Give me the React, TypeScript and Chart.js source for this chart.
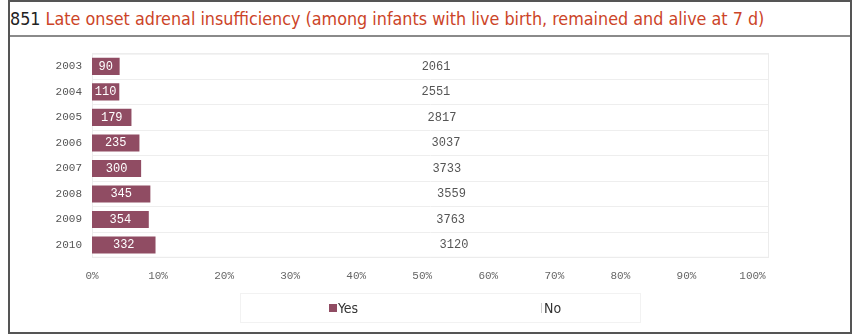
import React, { useEffect, useRef } from "react";
import { Chart, registerables } from "chart.js";

Chart.register(...registerables);

const years = ["2003", "2004", "2005", "2006", "2007", "2008", "2009", "2010"];
const yesCounts = [90, 110, 179, 235, 300, 345, 354, 332];
const noCounts = [2061, 2551, 2817, 3037, 3733, 3559, 3763, 3120];
const seriesNames = ["Yes", "No"];
const seriesColors = ["#904c63", "#ffffff"];
const xTickValues = [0, 10, 20, 30, 40, 50, 60, 70, 80, 90, 100];

const MONO = "'Liberation Mono', 'Courier New', monospace";
const SANS = "'DejaVu Sans Condensed', 'DejaVu Sans', sans-serif";

const pct = (a: number, b: number) => (a / (a + b)) * 100;
const yesPct = yesCounts.map((y, i) => pct(y, noCounts[i]));
const noPct = noCounts.map((n, i) => pct(n, yesCounts[i]));
const counts = [yesCounts, noCounts];

const frameBox = {
  id: "frameBox",
  beforeDatasetsDraw(chart: any) {
    const { ctx, chartArea: a } = chart;
    ctx.save();
    ctx.strokeStyle = "#ececec";
    ctx.lineWidth = 1;
    ctx.strokeRect(a.left + 0.5, a.top + 0.5, a.right - a.left - 1, a.bottom - a.top - 1);
    ctx.restore();
  },
};

const barLabels = {
  id: "barLabels",
  afterDatasetsDraw(chart: any) {
    const { ctx } = chart;
    ctx.save();
    ctx.font = `12px ${MONO}`;
    ctx.textAlign = "center";
    ctx.textBaseline = "middle";
    chart.data.datasets.forEach((ds: any, di: number) => {
      const meta = chart.getDatasetMeta(di);
      ctx.fillStyle = di === 0 ? "#ffffff" : "#555555";
      meta.data.forEach((el: any, i: number) => {
        const p = el.getProps(["x", "y", "base"], true);
        const cx = (p.x + p.base) / 2;
        ctx.fillText(String(counts[di][i]), cx, p.y);
      });
    });
    ctx.restore();
  },
};

const customLegend = {
  id: "customLegend",
  afterDraw(chart: any) {
    const { ctx } = chart;
    const items = chart.data.datasets;
    const cy = 271;
    ctx.save();
    ctx.strokeStyle = "#f2f2f2";
    ctx.lineWidth = 1;
    ctx.strokeRect(230.5, 256.5, 400, 29);
    const xs = [319, 525];
    ctx.font = `14px ${SANS}`;
    ctx.textBaseline = "middle";
    ctx.textAlign = "left";
    items.forEach((ds: any, i: number) => {
      const x = xs[i];
      ctx.fillStyle = ds.backgroundColor;
      ctx.fillRect(x, cy - 4, 8, 8);
      if (i === 1) {
        ctx.strokeStyle = "#cccccc";
        ctx.beginPath();
        ctx.moveTo(x + 6.5, cy - 5);
        ctx.lineTo(x + 6.5, cy + 5);
        ctx.stroke();
      }
      ctx.fillStyle = "#333333";
      ctx.fillText(ds.label, x + 9, cy + 1);
    });
    ctx.restore();
  },
};

export default function App() {
  const ref = useRef<HTMLCanvasElement | null>(null);

  useEffect(() => {
    if (!ref.current) return;
    const chart = new Chart(ref.current, {
      type: "bar",
      data: {
        labels: years,
        datasets: [
          {
            label: seriesNames[0],
            data: yesPct,
            backgroundColor: seriesColors[0],
            barPercentage: 0.67,
            categoryPercentage: 1,
          },
          {
            label: seriesNames[1],
            data: noPct,
            backgroundColor: seriesColors[1],
            barPercentage: 0.67,
            categoryPercentage: 1,
          },
        ],
      },
      options: {
        indexAxis: "y",
        responsive: false,
        animation: false,
        layout: { padding: { left: 0, right: 81, top: 16, bottom: 36 } },
        plugins: {
          legend: { display: false },
          tooltip: { enabled: false },
          title: { display: false },
        },
        scales: {
          x: {
            stacked: true,
            min: 0,
            max: 102.5,
            border: { display: false },
            grid: { display: false, drawTicks: false },
            afterBuildTicks: (scale: any) => {
              scale.ticks = xTickValues.map((v) => ({ value: v }));
            },
            ticks: {
              padding: 12,
              color: "#666666",
              font: { family: MONO, size: 11 },
              callback: (v: any) => `${v}%`,
              maxRotation: 0,
              autoSkip: false,
            },
          },
          y: {
            stacked: true,
            border: { display: false },
            grid: { color: "#eeeeee", drawTicks: false, offset: true },
            afterFit: (scale: any) => {
              scale.width = 82;
            },
            ticks: {
              padding: 10,
              color: "#555555",
              font: { family: MONO, size: 11 },
            },
          },
        },
      },
      plugins: [frameBox, barLabels, customLegend],
    } as any);
    return () => chart.destroy();
  }, []);

  return (
    <div
      style={{
        position: "absolute",
        left: 8,
        top: 0,
        width: 844,
        height: 334,
        border: "2px solid #555555",
        boxSizing: "border-box",
        background: "#ffffff",
      }}
    >
      <div
        style={{
          height: 33,
          borderBottom: "2px solid #8a8a8a",
          fontFamily: SANS,
          fontSize: 17.8,
          lineHeight: "33px",
          whiteSpace: "nowrap",
          paddingLeft: 0,
        }}
      >
        <span style={{ color: "#222222" }}>851 </span>
        <span style={{ color: "#cc4428" }}>
          Late onset adrenal insufficiency (among infants with live birth, remained and alive at 7 d)
        </span>
      </div>
      <canvas ref={ref} width={840} height={294} style={{ display: "block" }} />
    </div>
  );
}
